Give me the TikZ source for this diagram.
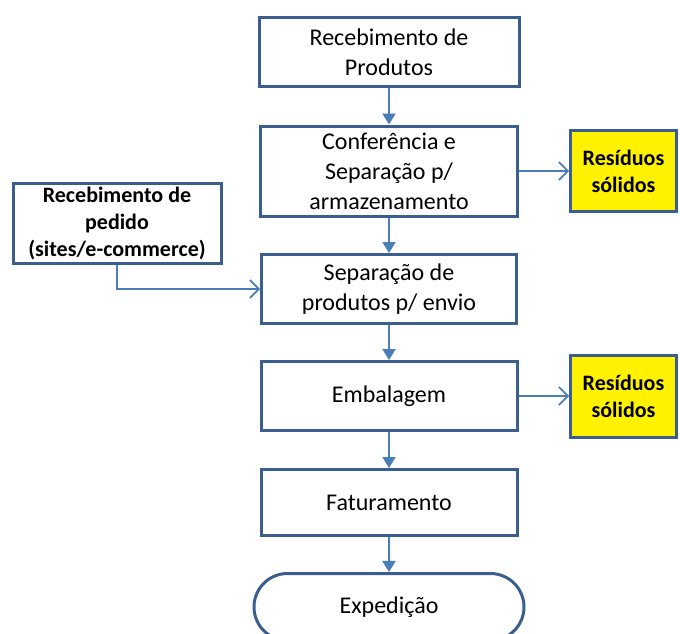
\documentclass[tikz,border=0pt]{standalone}
\usepackage{fontspec}
\setmainfont{Carlito}
\usetikzlibrary{arrows.meta,shapes.misc}
\definecolor{boxline}{HTML}{3A5F8E}
\definecolor{arrline}{HTML}{4A7EBB}
\tikzset{
  procbox/.style={draw=boxline, line width=3pt, fill=white, rectangle, align=center,
    font=\fontsize{24}{30}\selectfont, inner sep=0pt},
  boldbox/.style={draw=boxline, line width=3pt, rectangle, align=center,
    font=\fontsize{22}{27}\selectfont\bfseries, inner sep=0pt},
  flow/.style={draw=arrline, line width=2pt, -{Triangle[width=13pt,length=11pt]}},
  side/.style={draw=arrline, line width=1.6pt, -{Straight Barb[length=9pt,width=18pt,line width=1.6pt]}},
}
\begin{document}
\begin{tikzpicture}[x=1pt,y=-1pt]
\useasboundingbox (0,0) rectangle (680,634);
\clip (0,0) rectangle (680,634);
\node[procbox, minimum width=260pt, minimum height=69pt] (n1) at (389,52) {Recebimento de\\Produtos};
\node[procbox, minimum width=257pt, minimum height=90pt] (n2) at (389,171) {Conferência e\\Separação p/\\armazenamento};
\node[procbox, minimum width=255pt, minimum height=69pt] (n3) at (389,289) {Separação de\\produtos p/ envio};
\node[procbox, minimum width=256pt, minimum height=69pt] (n4) at (389,396) {Embalagem};
\node[procbox, minimum width=256pt, minimum height=66pt] (n5) at (389,502.5) {Faturamento};
\node[procbox, rounded rectangle, minimum width=270pt, minimum height=67pt] (n6) at (389,607) {Expedição};
\node[boldbox, fill=white, minimum width=208pt, minimum height=80pt] (p) at (117,223.5) {Recebimento de\\pedido\\(sites/e-commerce)};
\node[boldbox, fill=yellow, minimum width=106pt, minimum height=81pt] (r1) at (623.5,171) {Resíduos\\sólidos};
\node[boldbox, fill=yellow, minimum width=106pt, minimum height=82pt] (r2) at (623.5,396) {Resíduos\\sólidos};
\draw[flow] (n1) -- (n2);
\draw[flow] (n2) -- (n3);
\draw[flow] (n3) -- (n4);
\draw[flow] (n4) -- (n5);
\draw[flow] (n5) -- (n6);
\draw[side] (n2.east) -- (r1.west);
\draw[side] (n4.east) -- (r2.west);
\draw[side] (p.south) |- (n3.west);
\end{tikzpicture}
\end{document}
